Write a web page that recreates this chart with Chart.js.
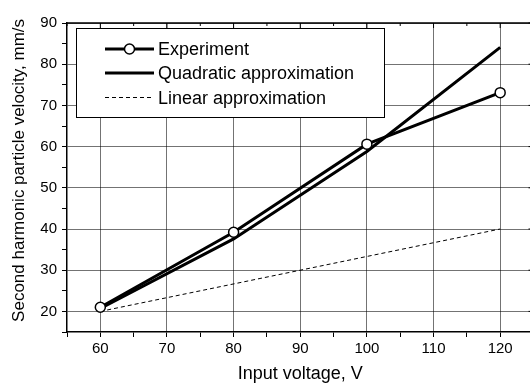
<!DOCTYPE html>
<html>
<head>
<meta charset="utf-8">
<script src="https://cdn.jsdelivr.net/npm/chart.js@4.4.1/dist/chart.umd.min.js"></script>
<style>
  body { margin:0; background:#fff; }
  #wrap { width:530px; height:388px; overflow:hidden; }
</style>
</head>
<body>
<div id="wrap"><canvas id="velocity_chart" width="540" height="388"></canvas></div>
<script>
let voltage = [60, 80, 100, 120];
let experiment = [21, 39.2, 60.6, 73.1];
let quadratic = [20.7, 37.6, 58.8, 84.1];
let linearX = [60, 120];
let linearY = [20, 40];
let seriesNames = ["Experiment", "Quadratic approximation", "Linear approximation"];

let font = "'Liberation Sans', Arial, sans-serif";

function pairs(xs, ys){
    let arr = new Array();
    for(let i=0; i<xs.length; i++){
        arr.push({x:xs[i], y:ys[i]});
    }
    return arr;
}

// box around plot: top border with inward ticks, right side too
let frame = {
    id:"frame",
    afterDraw:function(chart){
        let c = chart.ctx;
        let a = chart.chartArea;
        let xs = chart.scales.x;
        let ys = chart.scales.y;
        c.save();
        c.strokeStyle = "#000";
        c.lineWidth = 1.5;
        c.beginPath();
        c.moveTo(a.left, a.top);
        c.lineTo(a.right, a.top);
        c.lineTo(a.right, a.bottom);
        c.stroke();
        c.lineWidth = 1;
        xs.ticks.forEach(function(t){
            let px = xs.getPixelForValue(t.value);
            let len = t.value % 10 === 0 ? 5 : 3;
            c.beginPath();
            c.moveTo(px, a.top);
            c.lineTo(px, a.top + len);
            c.stroke();
        });
        ys.ticks.forEach(function(t){
            let py = ys.getPixelForValue(t.value);
            let len = t.value % 10 === 0 ? 5 : 3;
            c.beginPath();
            c.moveTo(a.right, py);
            c.lineTo(a.right - len, py);
            c.stroke();
        });
        c.restore();
    }
};

// legend drawn as a framed box inside the plot
let boxLegend = {
    id:"boxLegend",
    afterDraw:function(chart){
        let c = chart.ctx;
        c.save();
        c.fillStyle = "#fff";
        c.fillRect(76, 28, 308, 89);
        c.strokeStyle = "#000";
        c.lineWidth = 1;
        c.strokeRect(76.5, 28.5, 308, 89);
        let rows = [55, 79, 103.5];
        chart.data.datasets.forEach(function(ds, i){
            let mid = rows[i] - 6;
            c.strokeStyle = ds.borderColor;
            c.lineWidth = ds.borderWidth;
            c.setLineDash(ds.borderDash || []);
            c.beginPath();
            c.moveTo(105, mid);
            c.lineTo(154, mid);
            c.stroke();
            c.setLineDash([]);
            if(ds.pointRadius > 0){
                c.beginPath();
                c.arc(129.5, mid, ds.pointRadius, 0, Math.PI*2);
                c.fillStyle = "#fff";
                c.fill();
                c.lineWidth = ds.pointBorderWidth;
                c.stroke();
            }
            c.fillStyle = "#000";
            c.font = "18px " + font;
            c.textBaseline = "alphabetic";
            c.fillText(ds.label, 158, rows[i]);
        });
        c.restore();
    }
};

let gridColor = function(ctx){
    return ctx.tick && ctx.tick.value % 10 === 0 ? "rgba(0,0,0,0.55)" : "rgba(0,0,0,0)";
};

let velocityChart = new Chart(document.getElementById("velocity_chart"), {
    type:"line",
    plugins:[frame, boxLegend],
    data:{
        datasets:[
            {
                label:seriesNames[0],
                data:pairs(voltage, experiment),
                borderColor:"#000",
                borderWidth:3,
                pointRadius:5,
                pointBorderWidth:1.5,
                pointBackgroundColor:"#fff",
                pointBorderColor:"#000",
                tension:0
            },
            {
                label:seriesNames[1],
                data:pairs(voltage, quadratic),
                borderColor:"#000",
                borderWidth:3,
                pointRadius:0,
                tension:0
            },
            {
                label:seriesNames[2],
                data:pairs(linearX, linearY),
                borderColor:"#000",
                borderWidth:1,
                borderDash:[4,3],
                pointRadius:0,
                tension:0
            }
        ]
    },
    options:{
        responsive:false,
        animation:false,
        layout:{ padding:{ top:23, right:6, left:0, bottom:0 } },
        plugins:{
            legend:{ display:false },
            tooltip:{ enabled:false }
        },
        scales:{
            x:{
                type:"linear",
                min:55,
                max:125,
                afterFit:function(s){ s.height = 56; },
                border:{ color:"#000", width:1.5 },
                grid:{ color:gridColor, tickColor:"#000", tickLength:5, lineWidth:1 },
                ticks:{
                    stepSize:5,
                    autoSkip:false,
                    maxRotation:0,
                    padding:3,
                    color:"#000",
                    font:{ family:font, size:15 },
                    callback:function(v){ return v % 10 === 0 ? v : ""; }
                },
                title:{
                    display:true,
                    text:"Input voltage, V",
                    color:"#000",
                    font:{ family:font, size:18 },
                    padding:{ top:0, bottom:3 }
                }
            },
            y:{
                min:15,
                max:90,
                afterFit:function(s){ s.width = 67; },
                border:{ color:"#000", width:1.5 },
                grid:{ color:gridColor, tickColor:"#000", tickLength:5, lineWidth:1 },
                ticks:{
                    stepSize:5,
                    autoSkip:false,
                    padding:5,
                    color:"#000",
                    font:{ family:font, size:15 },
                    callback:function(v){ return v % 10 === 0 ? v : ""; }
                },
                title:{
                    display:true,
                    text:"   Second harmonic particle velocity, mm/s",
                    color:"#000",
                    font:{ family:font, size:17 },
                    padding:{ top:9, bottom:0 }
                }
            }
        }
    }
});
</script>
</body>
</html>
